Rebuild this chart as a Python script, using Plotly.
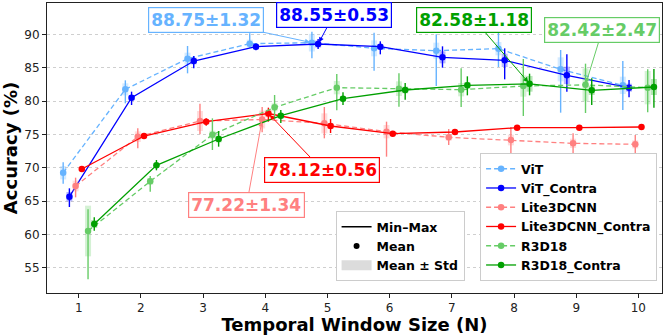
import plotly.graph_objects as go

# Temporal window sizes evaluated
window_sizes = [1, 2, 3, 4, 5, 6, 7, 8, 9, 10]

# Accuracy (%) per model: mean, min, max and std over runs
vit_mean = [69.24, 81.75, 86.35, 88.60, 88.75, 87.90, 87.55, 87.85, 84.75, 82.35]
vit_min = [67.60, 79.65, 84.15, 88.00, 86.40, 84.55, 82.25, 85.10, 78.25, 78.65]
vit_max = [70.80, 83.10, 88.25, 90.15, 90.40, 90.25, 90.00, 90.40, 87.65, 86.00]
vit_std = [1.00, 0.90, 0.90, 0.60, 1.32, 1.20, 1.20, 1.00, 1.80, 1.30]

vit_c_mean = [65.65, 80.50, 86.00, 88.15, 88.55, 88.15, 86.55, 86.10, 83.85, 82.00]
vit_c_min = [64.10, 79.40, 84.90, 87.60, 87.80, 87.00, 85.00, 83.25, 81.40, 80.55]
vit_c_max = [66.90, 81.40, 86.75, 88.60, 89.30, 88.95, 88.20, 87.90, 87.00, 83.15]
vit_c_std = [0.70, 0.40, 0.50, 0.40, 0.53, 0.40, 0.90, 1.00, 1.30, 0.60]

lite_mean = [67.25, 74.65, 77.00, 77.22, 76.65, 75.40, 74.55, 74.15, 73.65, 73.50]
lite_min = [65.55, 72.90, 75.00, 75.30, 74.40, 71.65, 73.40, 71.60, 72.15, 71.85]
lite_max = [68.50, 75.90, 79.60, 79.10, 79.10, 76.90, 75.80, 76.10, 75.15, 74.90]
lite_std = [0.80, 0.80, 1.50, 1.34, 1.50, 1.00, 0.50, 0.80, 0.70, 0.60]

lite_c_mean = [69.80, 74.75, 76.90, 78.12, 76.25, 75.10, 75.35, 76.00, 76.00, 76.10]
lite_c_min = [69.40, 74.45, 76.30, 76.90, 75.20, 74.85, 75.15, 75.75, 75.75, 75.80]
lite_c_max = [70.20, 75.05, 77.40, 79.00, 77.30, 75.35, 75.55, 76.25, 76.25, 76.45]
lite_c_std = [0.30, 0.20, 0.30, 0.56, 0.40, 0.20, 0.10, 0.15, 0.15, 0.15]

r3d_mean = [60.50, 67.95, 74.95, 79.05, 82.00, 81.85, 81.70, 82.25, 82.42, 82.00]
r3d_min = [53.25, 66.40, 72.65, 77.40, 78.60, 79.15, 79.10, 77.75, 78.20, 78.30]
r3d_max = [63.75, 68.75, 77.40, 80.90, 84.05, 84.15, 84.90, 86.30, 85.60, 84.75]
r3d_std = [3.80, 0.50, 0.60, 0.60, 1.00, 1.10, 1.00, 1.60, 2.47, 2.50]

r3d_c_mean = [61.55, 70.35, 74.30, 77.80, 80.35, 81.65, 82.35, 82.58, 81.60, 82.10]
r3d_c_min = [60.55, 69.60, 73.15, 76.70, 79.40, 80.20, 80.85, 80.85, 79.40, 79.00]
r3d_c_max = [62.55, 71.15, 75.50, 78.65, 81.30, 82.70, 83.70, 84.10, 83.40, 84.80]
r3d_c_std = [0.60, 0.30, 0.50, 0.40, 0.40, 0.50, 0.50, 1.18, 0.70, 1.20]

series_names = ["ViT", "ViT_Contra", "Lite3DCNN", "Lite3DCNN_Contra", "R3D18", "R3D18_Contra"]
y_ticks = [55, 60, 65, 70, 75, 80, 85, 90]

FONT = "DejaVu Sans"


def rgba(hex_color, alpha):
    h = hex_color.lstrip("#")
    r, g, b = int(h[0:2], 16), int(h[2:4], 16), int(h[4:6], 16)
    return f"rgba({r},{g},{b},{alpha})"


# (stats, colour, dash, horizontal dodge)
styles = [
    ((vit_mean, vit_min, vit_max, vit_std), "#66b3ff", "5px,3px", -0.25),
    ((vit_c_mean, vit_c_min, vit_c_max, vit_c_std), "#0000ff", "solid", -0.15),
    ((lite_mean, lite_min, lite_max, lite_std), "#ff8080", "5px,3px", -0.05),
    ((lite_c_mean, lite_c_min, lite_c_max, lite_c_std), "#ff0000", "solid", 0.05),
    ((r3d_mean, r3d_min, r3d_max, r3d_std), "#66cc66", "5px,3px", 0.15),
    ((r3d_c_mean, r3d_c_min, r3d_c_max, r3d_c_std), "#00a000", "solid", 0.25),
]

fig = go.Figure()

for name, ((mean, lo, hi, sd), color, dash, off) in zip(series_names, styles):
    xs = [n + off for n in window_sizes]
    # mean ± std band
    fig.add_trace(go.Scatter(
        x=xs, y=mean, mode="markers",
        marker=dict(size=1, color="rgba(0,0,0,0)"),
        error_y=dict(type="data", array=sd, symmetric=True,
                     thickness=6, width=0, color=rgba(color, 0.28)),
        showlegend=False, hoverinfo="skip",
    ))
    # mean line with min-max whiskers
    fig.add_trace(go.Scatter(
        x=xs, y=mean, mode="lines+markers", name=name,
        line=dict(color=color, width=1.3, dash=dash),
        marker=dict(size=6.5, color=color),
        error_y=dict(type="data", symmetric=False,
                     array=[h - m for h, m in zip(hi, mean)],
                     arrayminus=[m - l for m, l in zip(mean, lo)],
                     thickness=1.4, width=0, color=color),
    ))

# key for the whisker / dot / band encoding
fig.add_trace(go.Scatter(x=[None], y=[None], mode="lines", name="Min–Max",
                         line=dict(color="black", width=1.5), legend="legend2"))
fig.add_trace(go.Scatter(x=[None], y=[None], mode="markers", name="Mean",
                         marker=dict(color="black", size=6), legend="legend2"))
fig.add_trace(go.Scatter(x=[None], y=[None], mode="lines", name="Mean ± Std",
                         line=dict(color="#dcdcdc", width=10), legend="legend2"))

# callouts: (series index, window index, label box position in data units)
callouts = [
    (0, 4, 3.05, 92.15),
    (1, 4, 5.10, 92.90),
    (3, 3, 4.92, 69.65),
    (2, 3, 3.70, 64.40),
    (5, 7, 7.36, 92.20),
    (4, 8, 9.42, 90.65),
]
for si, wi, bx, by in callouts:
    (mean, lo, hi, sd), color, dash, off = styles[si]
    fig.add_annotation(
        x=window_sizes[wi] + off, y=mean[wi], xref="x", yref="y",
        ax=bx, ay=by, axref="x", ayref="y",
        text=f"<b>{mean[wi]:.2f}±{sd[wi]:.2f}</b>",
        font=dict(family=FONT, size=17, color=color),
        bgcolor="white", bordercolor=color, borderwidth=1.2, borderpad=2,
        showarrow=True, arrowhead=2, arrowsize=1, arrowwidth=1,
        arrowcolor=color, standoff=2,
    )

axis_common = dict(
    showline=True, linecolor="#222222", linewidth=1, mirror=True,
    ticks="outside", ticklen=4, tickcolor="#222222",
    tickfont=dict(family=FONT, size=12, color="#222222"),
    zeroline=False,
)

fig.update_layout(
    width=664, height=335,
    margin=dict(l=47, r=2, t=3, b=42),
    paper_bgcolor="white", plot_bgcolor="white",
    font=dict(family=FONT, color="#111111"),
    xaxis=dict(
        range=[0.49, 10.38], tickvals=window_sizes, showgrid=False,
        title=dict(text="<b>Temporal Window Size (N)</b>",
                   font=dict(family=FONT, size=18, color="black"), standoff=4),
        **axis_common,
    ),
    yaxis=dict(
        range=[51.2, 94.7], tickvals=y_ticks,
        showgrid=True, gridcolor="#cfcfcf", gridwidth=0.8, griddash="dot",
        title=dict(text="<b>Accuracy (%)</b>",
                   font=dict(family=FONT, size=18, color="black"), standoff=4),
        **axis_common,
    ),
    legend=dict(
        x=0.992, y=0.041, xanchor="right", yanchor="bottom",
        bgcolor="white", bordercolor="#cccccc", borderwidth=1,
        font=dict(family=FONT, size=12.5, color="black", weight="bold"),
        itemwidth=30, tracegroupgap=0,
    ),
    legend2=dict(
        x=0.679, y=0.041, xanchor="right", yanchor="bottom",
        bgcolor="white", bordercolor="#cccccc", borderwidth=1,
        font=dict(family=FONT, size=12.5, color="black", weight="bold"),
        itemwidth=30,
    ),
)

fig.write_html("out.html")
